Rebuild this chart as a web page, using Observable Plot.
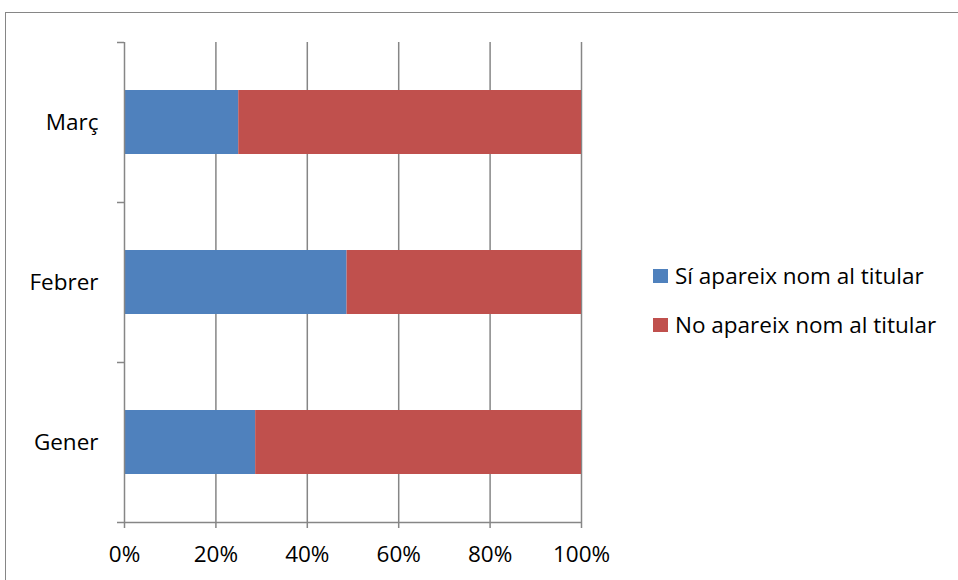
<!DOCTYPE html>
<html><head><meta charset="utf-8">
<script src="https://cdn.jsdelivr.net/npm/d3@7"></script>
<script src="https://cdn.jsdelivr.net/npm/@observablehq/plot@0.6"></script>
<style>
body{margin:0;background:#fff;font-family:"Open Sans",sans-serif;}
#wrap{position:relative;width:958px;height:580px;overflow:hidden;background:#fff;}
#frame{position:absolute;left:5px;top:12px;width:1000px;height:1000px;border:1.5px solid #868686;box-sizing:border-box;}
#chart{position:absolute;left:0;top:0;}
.legend{position:absolute;left:653px;top:251px;font-family:"Open Sans",sans-serif;font-size:22.5px;color:#000;}
.legend .item{display:flex;align-items:center;height:49px;}
.legend .sw{width:15px;height:14px;margin-right:7px;}
</style>
</head><body>
<div id="wrap"><div id="frame"></div><div id="chart"></div><div class="legend" id="legend"></div></div>
<script>
// categories from bottom to top
const months = ["Gener", "Febrer", "Març"];
const series = ["Sí apareix nom al titular", "No apareix nom al titular"];
const siValues = [0.287, 0.487, 0.250];
const noValues = [0.713, 0.513, 0.750];
const xTicks = [0, 0.2, 0.4, 0.6, 0.8, 1];
const colors = ["#4F81BD", "#C0504D"];

const rows = [];
months.forEach((m, i) => {
  rows.push({i, month: m, serie: series[0], x1: 0, x2: siValues[i]});
  rows.push({i, month: m, serie: series[1], x1: siValues[i], x2: siValues[i] + noValues[i]});
});

const grey = "#868686";
const chart = Plot.plot({
  width: 958, height: 580,
  marginLeft: 124, marginRight: 377, marginTop: 42, marginBottom: 58,
  style: {fontFamily: "'Open Sans', sans-serif", fontSize: "22.5px", background: "transparent", color: "#000"},
  x: {domain: [0, 1]},
  y: {domain: [0, 3]},
  color: {domain: series, range: colors},
  marks: [
    Plot.gridX(xTicks.slice(1), {stroke: grey, strokeOpacity: 1, strokeWidth: 1.5}),
    Plot.rectX(rows, {x1: "x1", x2: "x2", y1: d => d.i + 0.3, y2: d => d.i + 0.7, fill: "serie"}),
    Plot.ruleX([0], {stroke: grey, strokeWidth: 1.5}),
    Plot.ruleY([0], {stroke: grey, strokeWidth: 1.5}),
    Plot.axisY([0, 1, 2, 3], {tickFormat: () => "", tickSize: 7, stroke: grey, strokeWidth: 1.5}),
    Plot.axisY([0.5, 1.5, 2.5], {tickSize: 0, tickPadding: 26, tickFormat: v => months[Math.floor(v)], fill: "#000", fontSize: 22.5}),
    Plot.axisX(xTicks, {tickFormat: d3.format(".0%"), tickSize: 6, tickPadding: 18, stroke: grey, strokeWidth: 1.5, fill: "#000", fontSize: 22.5})
  ]
});
document.getElementById("chart").appendChild(chart);

const leg = document.getElementById("legend");
series.forEach((s, k) => {
  const it = document.createElement("div");
  it.className = "item";
  it.innerHTML = `<span class="sw" style="background:${colors[k]}"></span><span>${s}</span>`;
  leg.appendChild(it);
});
</script>
</body></html>
